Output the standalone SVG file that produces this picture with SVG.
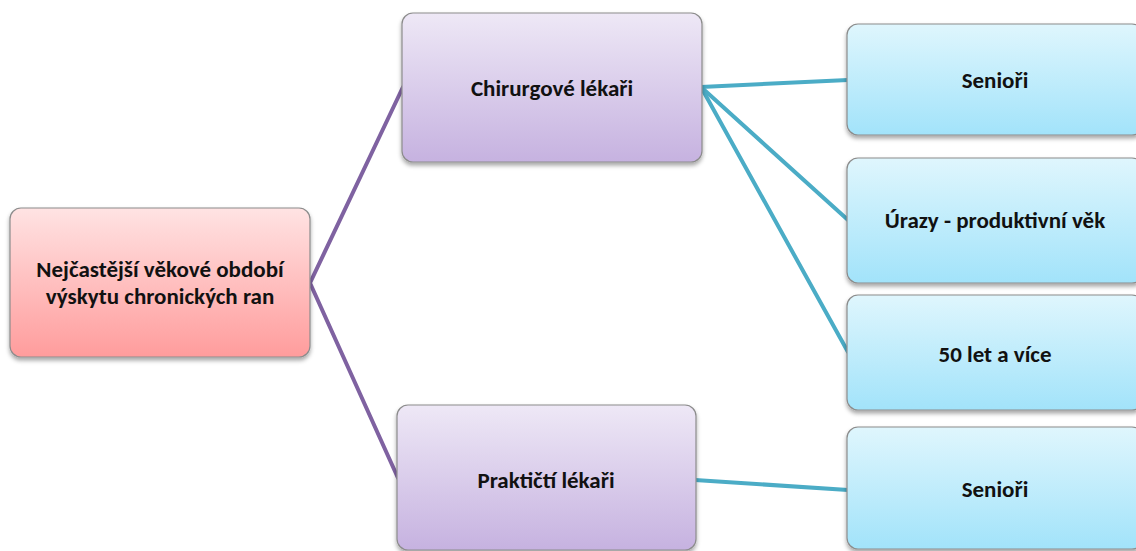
<svg xmlns="http://www.w3.org/2000/svg" width="1136" height="551" viewBox="0 0 1136 551">
  <defs>
    <linearGradient id="gPink" x1="0" y1="0" x2="0" y2="1">
      <stop offset="0" stop-color="#FFE3E3"/>
      <stop offset="1" stop-color="#FF9C9C"/>
    </linearGradient>
    <linearGradient id="gPurple" x1="0" y1="0" x2="0" y2="1">
      <stop offset="0" stop-color="#EEE8F6"/>
      <stop offset="1" stop-color="#C6B2E0"/>
    </linearGradient>
    <linearGradient id="gBlue" x1="0" y1="0" x2="0" y2="1">
      <stop offset="0" stop-color="#DFF6FD"/>
      <stop offset="1" stop-color="#A2E3FA"/>
    </linearGradient>
    <filter id="shadow" x="-10%" y="-10%" width="120%" height="130%">
      <feDropShadow dx="0" dy="3" stdDeviation="2" flood-color="#000" flood-opacity="0.35"/>
    </filter>
  </defs>
  <style>
    .box { stroke: #8C8C8C; stroke-width: 1.2; filter: url(#shadow); }
    .pink { fill: url(#gPink); }
    .purple { fill: url(#gPurple); }
    .blue { fill: url(#gBlue); }
    .lbl { font-family: Carlito, Lato, "Liberation Sans", sans-serif; font-weight: bold; font-size: 23px; fill: #111; text-anchor: middle; }
    .c1 { stroke: #7F62A1; stroke-width: 4; fill: none; stroke-linecap: round; }
    .c2 { stroke: #4BACC6; stroke-width: 4; fill: none; stroke-linecap: round; }
  </style>

  <g id="connectors">
    <line class="c1" x1="310" y1="283" x2="403" y2="87"/>
    <line class="c1" x1="310" y1="283" x2="398" y2="478"/>
    <line class="c2" x1="701" y1="87" x2="848" y2="80"/>
    <line class="c2" x1="701" y1="87" x2="848" y2="220"/>
    <line class="c2" x1="701" y1="87" x2="848" y2="352"/>
    <line class="c2" x1="695" y1="480" x2="848" y2="490"/>
  </g>

  <g id="root">
    <rect class="box pink" x="10" y="208" width="300" height="149" rx="11"/>
    <text class="lbl" x="160" y="277">Nejčastější věkové období</text>
    <text class="lbl" x="160" y="304">výskytu chronických ran</text>
  </g>

  <g id="chirurgove">
    <rect class="box purple" x="402" y="13" width="300" height="149" rx="11"/>
    <text class="lbl" x="552" y="96">Chirurgové lékaři</text>
  </g>

  <g id="prakticti">
    <rect class="box purple" x="397" y="405" width="299" height="145" rx="11"/>
    <text class="lbl" x="546" y="488">Praktičtí lékaři</text>
  </g>

  <g id="seniori1">
    <rect class="box blue" x="847" y="24" width="296" height="111" rx="11"/>
    <text class="lbl" x="995" y="88">Senioři</text>
  </g>

  <g id="urazy">
    <rect class="box blue" x="847" y="158" width="296" height="125" rx="11"/>
    <text class="lbl" x="995" y="228">Úrazy - produktivní věk</text>
  </g>

  <g id="padesat">
    <rect class="box blue" x="847" y="295" width="296" height="115" rx="11"/>
    <text class="lbl" x="995" y="362">50 let a více</text>
  </g>

  <g id="seniori2">
    <rect class="box blue" x="847" y="427" width="296" height="122" rx="11"/>
    <text class="lbl" x="995" y="497">Senioři</text>
  </g>
</svg>
